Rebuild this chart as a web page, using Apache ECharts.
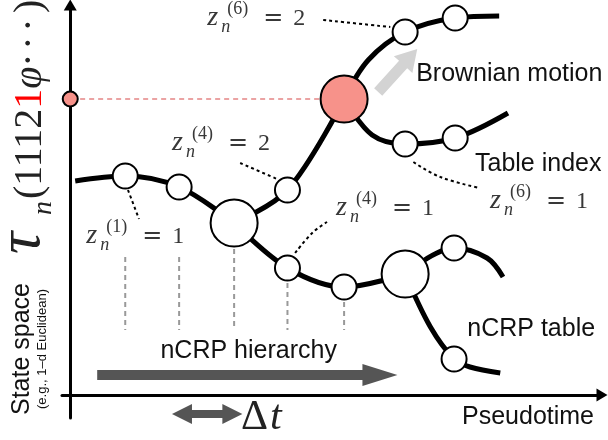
<!DOCTYPE html>
<html>
<head>
<meta charset="utf-8">
<script src="https://cdn.jsdelivr.net/npm/echarts@6/dist/echarts.min.js"></script>
<style>
  html, body { margin: 0; padding: 0; background: #fff; }
  #chart { width: 608px; height: 440px; }
</style>
</head>
<body>
<div id="chart"></div>
<script>
// ---- Tree of tables in (pseudotime t, state s) ----
const rootBranch    = [[0.09, 4.28], [1.0, 4.38], [1.98, 4.16], [2.98, 3.44]];
const upperBranch   = [[2.98, 3.44], [3.95, 4.10], [4.98, 5.92]];
const topBranch     = [[4.98, 5.92], [5.42, 6.70], [6.09, 7.26], [7.0, 7.54], [7.8, 7.58]];
const middleBranch  = [[4.98, 5.92], [5.49, 5.20], [6.09, 5.02], [7.0, 5.14], [7.96, 5.64]];
const lowerBranch   = [[2.98, 3.44], [3.95, 2.54], [4.98, 2.16], [6.09, 2.42]];
const risingBranch  = [[6.09, 2.42], [6.98, 2.94], [7.58, 2.74], [7.87, 2.36]];
const fallingBranch = [[6.09, 2.42], [6.55, 1.36], [6.98, 0.72], [7.27, 0.56], [7.82, 0.44]];

// nCRP tables (small), branching tables (large), the current table (red)
const tableNodes  = [[1.0, 4.38], [1.98, 4.16], [3.95, 4.10], [3.95, 2.54], [4.98, 2.16],
                     [6.09, 7.26], [7.0, 7.54], [6.09, 5.02], [7.0, 5.14], [6.98, 2.94], [6.98, 0.72]];
const branchNodes = [[2.98, 3.44], [6.09, 2.42]];
const currentNode = [[4.98, 5.92]];
const currentOnAxis = [[0, 5.92]];

// vertical drop lines from the root path to the time axis
const dropTops = [[1.0, 2.76], [1.98, 2.76], [2.98, 2.92], [3.95, 2.24], [4.98, 1.86]];
const dropBottom = 1.3;

// leader lines tying the z labels to their tables
const leaderZ1  = [[1.05, 4.10], [1.25, 3.52]];
const leaderZ4a = [[3.09, 4.64], [3.76, 4.32]];
const leaderZ4b = [[4.09, 2.84], [4.40, 3.24], [4.67, 3.46]];
const leaderZ6a = [[4.60, 7.50], [5.82, 7.36]];
const leaderZ6b = [[6.24, 4.66], [6.73, 4.36], [7.45, 4.14]];
const stateGuide = [[0.18, 5.92], [4.55, 5.92]];

// arrows: [tail, tip]
const brownianArrow  = [[5.60, 6.06], [6.31, 6.92]];
const hierarchyArrow = [[0.49, 0.40], [5.95, 0.40]];
const deltaArrow     = [[1.85, -0.38], [3.13, -0.38]];

// z labels: level, assigned table, anchor (left / baseline)
const zLevels  = ['6', '4', '1', '4', '6'];
const zValues  = ['2', '2', '1', '1', '1'];
const zAnchors = [[2.51, 7.36], [1.87, 4.86], [0.31, 3.0], [4.85, 3.56], [7.65, 3.70]];

// plain labels and their anchors (left / baseline)
const noteTexts   = ['Brownian motion', 'Table index', 'nCRP table', 'nCRP hierarchy'];
const noteAnchors = [[6.29, 6.24], [7.36, 4.44], [7.22, 1.14], [1.64, 0.70]];

// sequence on the state axis: τ_n(1112 1 φ ···)
const tauDigits = '1112';
const tauActive = '1';

const SERIF = '"Liberation Serif", "DejaVu Serif", serif';
const SANS = '"Liberation Sans", Arial, sans-serif';
const MATH_INK = '#383838';

const chart = echarts.init(document.getElementById('chart'), null, { renderer: 'canvas' });

function curve(data, style, smooth) {
  return {
    type: 'line', data, symbol: 'none', smooth: smooth === undefined ? 0.35 : smooth,
    lineStyle: style, silent: true, z: 2, animation: false
  };
}

const thick = { color: '#000', width: 5 };
const drops = { color: '#999', width: 2, type: [5, 4] };
const leaders = { color: '#000', width: 2, type: [3, 3] };

function arrowSeries(arrow, cfg) {
  return {
    type: 'custom', coordinateSystem: 'cartesian2d', clip: false, silent: true, animation: false,
    z: 1,
    data: [[arrow[0][0], arrow[0][1], arrow[1][0], arrow[1][1]]],
    encode: { x: [0, 2], y: [1, 3] },
    renderItem: function (params, api) {
      const a = api.coord([api.value(0), api.value(1)]);
      const b = api.coord([api.value(2), api.value(3)]);
      const dx = b[0] - a[0], dy = b[1] - a[1];
      const len = Math.sqrt(dx * dx + dy * dy);
      const ux = dx / len, uy = dy / len, nx = -uy, ny = ux;
      const sw = cfg.shaft / 2, hw = cfg.head / 2, hl = cfg.headLen;
      const P = (p, along, side) => [p[0] + ux * along + nx * side, p[1] + uy * along + ny * side];
      let pts;
      if (cfg.both) {
        pts = [a, P(a, hl, hw), P(a, hl, sw), P(b, -hl, sw), P(b, -hl, hw), b,
               P(b, -hl, -hw), P(b, -hl, -sw), P(a, hl, -sw), P(a, hl, -hw)];
      } else {
        pts = [P(a, 0, sw), P(b, -hl, sw), P(b, -hl, hw), b, P(b, -hl, -hw), P(b, -hl, -sw), P(a, 0, -sw)];
      }
      return { type: 'polygon', shape: { points: pts }, style: { fill: cfg.color } };
    }
  };
}

const series = [];
[rootBranch, upperBranch, topBranch, middleBranch, lowerBranch, risingBranch, fallingBranch]
  .forEach(b => series.push(curve(b, thick)));
dropTops.forEach(p => series.push(curve([p, [p[0], dropBottom]], drops, false)));
[leaderZ1, leaderZ4a, leaderZ4b, leaderZ6a, leaderZ6b].forEach(l => series.push(curve(l, leaders, 0.4)));
series.push(curve(stateGuide, { color: '#eba3a3', width: 2, type: [5, 4] }, false));

series.push(arrowSeries(brownianArrow, { shaft: 11, head: 25, headLen: 21, color: '#d3d3d3' }));
series.push(arrowSeries(hierarchyArrow, { shaft: 10, head: 22, headLen: 35, color: '#555' }));
series.push(arrowSeries(deltaArrow, { shaft: 8, head: 20, headLen: 20, color: '#555', both: true }));

const nodeStyle = { color: '#fff', borderColor: '#000', borderWidth: 2, opacity: 1 };
series.push({ type: 'scatter', data: tableNodes, symbolSize: 25, itemStyle: nodeStyle, z: 5, silent: true, animation: false });
series.push({ type: 'scatter', data: branchNodes, symbolSize: 47, itemStyle: nodeStyle, z: 5, silent: true, animation: false });
series.push({ type: 'scatter', data: currentNode, symbolSize: 47,
  itemStyle: { color: '#f7928a', borderColor: '#000', borderWidth: 2, opacity: 1 }, z: 5, silent: true, animation: false });
series.push({ type: 'scatter', data: currentOnAxis, symbolSize: 15,
  itemStyle: { color: '#f7928a', borderColor: '#000', borderWidth: 2, opacity: 1 }, z: 6, silent: true, animation: false });

const axisCommon = {
  type: 'value',
  axisLine: { show: true, onZero: true, symbol: ['none', 'triangle'], symbolSize: [13, 11],
              lineStyle: { color: '#000', width: 3 } },
  axisTick: { show: false }, axisLabel: { show: false }, splitLine: { show: false }
};

chart.setOption({
  animation: false,
  grid: { left: 62, right: 6, top: 5, bottom: 22 },
  xAxis: Object.assign({}, axisCommon, { min: -0.15, max: 9.67 }),
  yAxis: Object.assign({}, axisCommon, { min: -0.46, max: 7.8 }),
  series: series
});

// ---- text layer ----
function txt(str, x, baseline, size, opts) {
  opts = opts || {};
  const font = (opts.italic ? 'italic ' : '') + size + 'px ' + (opts.family || SERIF);
  const align = opts.align || 'left';
  return {
    type: 'text', x: x, y: baseline - 0.34 * size, silent: true, z: 10,
    style: { text: str, font: font, fill: opts.fill || MATH_INK,
             align: align, textAlign: align, verticalAlign: 'middle', textVerticalAlign: 'middle' }
  };
}

const toPx = p => chart.convertToPixel({ gridIndex: 0 }, p);
const elements = [];

zAnchors.forEach((a, i) => {
  const [x, y] = toPx(a);
  elements.push(txt('z', x - 1, y, 28, { italic: true }));
  elements.push(txt('(' + zLevels[i] + ')', x + 19, y - 12, 18));
  elements.push(txt('n', x + 13, y + 6, 18, { italic: true }));
  elements.push(txt('=', x + 55, y, 24, { family: '"DejaVu Serif", serif' }));
  elements.push(txt(zValues[i], x + 85, y, 24));
});

noteAnchors.forEach((a, i) => {
  const [x, y] = toPx(a);
  elements.push(txt(noteTexts[i], x, y, 25, { family: SANS, fill: '#111' }));
});

elements.push(txt('Pseudotime', 462, 426, 25, { family: SANS, fill: '#111' }));
elements.push(txt('\u0394', 241, 432, 42, { fill: '#222' }));
elements.push(txt('t', 270, 432, 42, { italic: true, fill: '#222' }));

// state axis title, written bottom-to-top
elements.push({
  type: 'group', x: 31, y: 349, rotation: Math.PI / 2,
  children: [txt('State space', 0, 0, 25, { family: SANS, fill: '#111', align: 'center' })]
});
elements.push({
  type: 'group', x: 47, y: 349, rotation: Math.PI / 2,
  children: [txt('(e.g., 1\u2013d Euclidean)', 0, 0, 13, { family: SANS, fill: '#111', align: 'center' })]
});

// τ_n(11121φ···) along the state axis
const meas = document.createElement('canvas').getContext('2d');
function w(str, size, italic) {
  meas.font = (italic ? 'italic ' : '') + size + 'px ' + SERIF;
  return meas.measureText(str).width;
}
const tau = [];
tau.push(txt('\u03c4', -4, 0, 62, { italic: true, fill: '#222' }));
tau.push(txt('n', 35, 9, 28, { italic: true, fill: '#222' }));
let cx = 51;
tau.push(txt('(', cx, 0, 40, { fill: '#222' })); cx += w('(', 40);
tau.push(txt(tauDigits, cx, 0, 40, { fill: '#222' })); cx += w(tauDigits, 40);
tau.push(txt(tauActive, cx, 0, 40, { fill: '#ff0000' })); cx += w(tauActive, 40);
tau.push(txt('\u03c6', cx, 0, 40, { italic: true, fill: '#222' }));
[190, 207, 225].forEach(d => tau.push(txt('\u00b7', d, 0, 40, { fill: '#222', align: 'center' })));
tau.push(txt(')', 237, 0, 40, { fill: '#222' }));
elements.push({ type: 'group', x: 44, y: 250, rotation: Math.PI / 2, children: tau });

chart.setOption({ graphic: { elements: elements } });
</script>
</body>
</html>
